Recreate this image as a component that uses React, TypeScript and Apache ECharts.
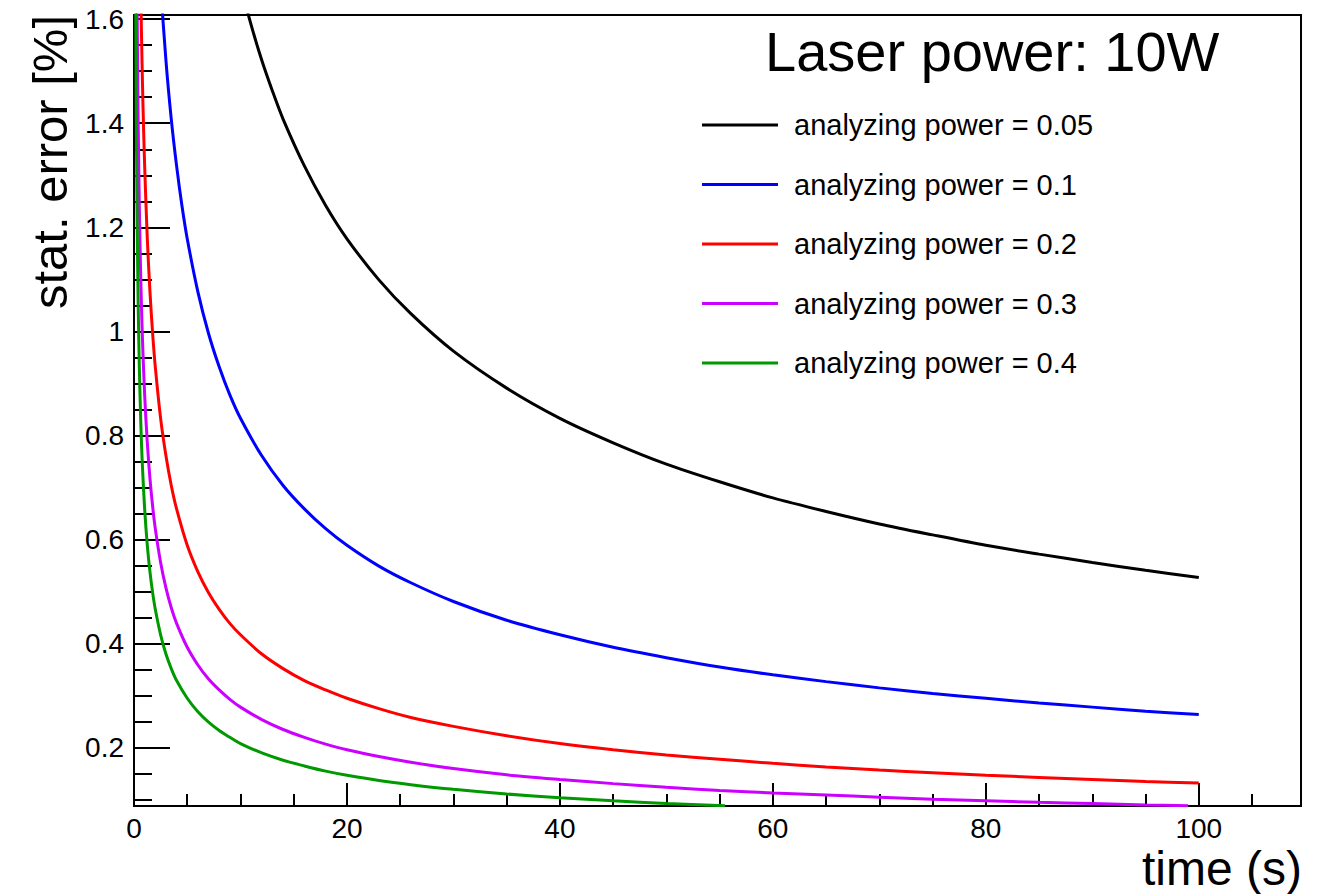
import React, { useEffect, useRef } from "react";
import * as echarts from "echarts";

// ---- data ----
const chartTitle = "Laser power: 10W";
const xTitle = "time (s)";
const yTitle = "stat. error [%]";

const seriesNames = [
  "analyzing power = 0.05",
  "analyzing power = 0.1",
  "analyzing power = 0.2",
  "analyzing power = 0.3",
  "analyzing power = 0.4",
];
const seriesColors = ["#000000", "#0000ff", "#ff0000", "#cc00ff", "#009900"];

// analyzing power = 0.05
const timeA005 = [8, 9, 10, 11, 12, 13, 14, 16, 18, 20, 23, 26, 30, 35, 40, 45, 50, 55, 60, 65, 70, 75, 80, 85, 90, 95, 100];
const errA005 = [1.863, 1.757, 1.667, 1.589, 1.521, 1.462, 1.408, 1.318, 1.242, 1.178, 1.099, 1.034, 0.962, 0.891, 0.833, 0.786, 0.745, 0.711, 0.680, 0.654, 0.630, 0.609, 0.589, 0.572, 0.556, 0.541, 0.527];

// analyzing power = 0.1
const timeA01 = [2, 2.5, 3, 3.5, 4, 4.5, 5, 6, 7, 8, 9, 10, 12, 14, 16, 18, 20, 23, 26, 30, 35, 40, 45, 50, 55, 60, 65, 70, 75, 80, 85, 90, 95, 100];
const errA01 = [1.863, 1.667, 1.521, 1.408, 1.318, 1.242, 1.178, 1.076, 0.996, 0.932, 0.878, 0.833, 0.761, 0.704, 0.659, 0.621, 0.589, 0.549, 0.517, 0.481, 0.445, 0.417, 0.393, 0.373, 0.355, 0.340, 0.327, 0.315, 0.304, 0.295, 0.286, 0.278, 0.270, 0.264];

// analyzing power = 0.2
const timeA02 = [0.5, 0.6, 0.7, 0.8, 0.9, 1, 1.25, 1.5, 1.75, 2, 2.5, 3, 3.5, 4, 5, 6, 7, 8, 9, 10, 12, 14, 16, 18, 20, 23, 26, 30, 35, 40, 45, 50, 55, 60, 65, 70, 75, 80, 85, 90, 95, 100];
const errA02 = [1.863, 1.701, 1.575, 1.473, 1.389, 1.318, 1.178, 1.076, 0.996, 0.932, 0.833, 0.761, 0.704, 0.659, 0.589, 0.538, 0.498, 0.466, 0.439, 0.417, 0.380, 0.352, 0.329, 0.311, 0.295, 0.275, 0.258, 0.241, 0.223, 0.208, 0.196, 0.186, 0.178, 0.170, 0.163, 0.157, 0.152, 0.147, 0.143, 0.139, 0.135, 0.132];

// analyzing power = 0.3
const timeA03 = [0.2, 0.25, 0.3, 0.35, 0.4, 0.5, 0.6, 0.7, 0.8, 1, 1.25, 1.5, 1.75, 2, 2.5, 3, 3.5, 4, 5, 6, 7, 8, 9, 10, 12, 14, 16, 18, 20, 23, 26, 30, 35, 40, 45, 50, 55, 60, 65, 70, 75, 80, 85, 90, 95, 99];
const errA03 = [1.964, 1.757, 1.604, 1.485, 1.389, 1.242, 1.134, 1.050, 0.982, 0.878, 0.786, 0.717, 0.664, 0.621, 0.556, 0.507, 0.469, 0.439, 0.393, 0.359, 0.332, 0.311, 0.293, 0.278, 0.254, 0.235, 0.220, 0.207, 0.196, 0.183, 0.172, 0.160, 0.148, 0.139, 0.131, 0.124, 0.118, 0.113, 0.109, 0.105, 0.101, 0.098, 0.095, 0.093, 0.090, 0.0885];

// analyzing power = 0.4
const timeA04 = [0.1, 0.15, 0.2, 0.25, 0.3, 0.4, 0.5, 0.6, 0.7, 0.8, 1, 1.25, 1.5, 1.75, 2, 2.5, 3, 3.5, 4, 5, 6, 7, 8, 9, 10, 12, 14, 16, 18, 20, 23, 26, 30, 35, 40, 45, 50, 55.5];
const errA04 = [2.083, 1.701, 1.473, 1.318, 1.203, 1.042, 0.932, 0.851, 0.787, 0.737, 0.659, 0.589, 0.538, 0.498, 0.466, 0.417, 0.380, 0.352, 0.329, 0.295, 0.269, 0.249, 0.233, 0.220, 0.208, 0.190, 0.176, 0.165, 0.155, 0.147, 0.137, 0.129, 0.120, 0.111, 0.104, 0.098, 0.093, 0.0885];

const seriesTimes = [timeA005, timeA01, timeA02, timeA03, timeA04];
const seriesErrors = [errA005, errA01, errA02, errA03, errA04];

const xMin = 0;
const xMax = 109.6;
const yMin = 0.088;
const yMax = 1.608;

const FONT = "'Liberation Sans', Arial, Helvetica, sans-serif";

export default function App() {
  const ref = useRef<HTMLDivElement>(null);

  useEffect(() => {
    if (!ref.current) return;
    const chart = echarts.init(ref.current, undefined, { renderer: "svg" });

    const isMultiple = (v: number, step: number) =>
      Math.abs(v / step - Math.round(v / step)) < 1e-6;

    const option: any = {
      animation: false,
      backgroundColor: "#ffffff",
      textStyle: { fontFamily: FONT },
      grid: {
        left: 134,
        top: 15,
        right: 27,
        bottom: 88,
        show: true,
        borderColor: "#000",
        borderWidth: 2,
        backgroundColor: "transparent",
      },
      title: {
        text: chartTitle,
        left: 765,
        top: 23,
        padding: 0,
        textStyle: { fontFamily: FONT, fontSize: 56, fontWeight: "normal", color: "#000" },
      },
      legend: {
        orient: "vertical",
        left: 702,
        top: 110,
        padding: 0,
        itemWidth: 76,
        itemHeight: 3,
        itemGap: 29.5,
        icon: "rect",
        data: seriesNames,
        selectedMode: false,
        textStyle: { fontFamily: FONT, fontSize: 29, color: "#000", lineHeight: 30, padding: [0, 0, 0, 11] },
      },
      xAxis: {
        type: "value",
        min: xMin,
        max: xMax,
        splitNumber: 5,
        axisLine: { show: true, onZero: false, lineStyle: { color: "#000", width: 2 } },
        axisTick: { show: true, inside: true, length: 23, lineStyle: { color: "#000", width: 2 } },
        minorTick: { show: true, splitNumber: 4, length: 12, lineStyle: { color: "#000", width: 2 } },
        splitLine: { show: false },
        axisLabel: {
          color: "#000",
          fontSize: 28,
          fontFamily: FONT,
          margin: 8,
          formatter: (v: number) => (isMultiple(v, 20) && v <= 100 ? String(v) : ""),
        },
      },
      yAxis: {
        type: "value",
        min: yMin,
        max: yMax,
        splitNumber: 8,
        axisLine: { show: true, onZero: false, lineStyle: { color: "#000", width: 2 } },
        axisTick: { show: true, inside: true, length: 36, lineStyle: { color: "#000", width: 2 } },
        minorTick: { show: true, splitNumber: 4, length: 18, lineStyle: { color: "#000", width: 2 } },
        splitLine: { show: false },
        axisLabel: {
          color: "#000",
          fontSize: 28,
          fontFamily: FONT,
          margin: 10,
          formatter: (v: number) => {
            if (!isMultiple(v, 0.2)) return "";
            const r = Math.round(v * 10) / 10;
            return String(r);
          },
        },
      },
      graphic: [
        {
          type: "text",
          x: 50,
          y: 15,
          rotation: Math.PI / 2,
          style: {
            text: yTitle,
            fontFamily: FONT,
            fontSize: 49,
            fill: "#000",
            align: "right",
            verticalAlign: "middle",
          },
        },
        {
          type: "text",
          x: 1302,
          y: 868,
          style: {
            text: xTitle,
            fontFamily: FONT,
            fontSize: 48,
            fill: "#000",
            align: "right",
            verticalAlign: "middle",
          },
        },
      ],
      series: seriesNames.map((name, i) => ({
        name,
        type: "line",
        showSymbol: false,
        symbol: "none",
        clip: true,
        smooth: 0.3,
        color: seriesColors[i],
        lineStyle: { color: seriesColors[i], width: 3 },
        data: seriesTimes[i].map((t, j) => [t, seriesErrors[i][j]]),
      })),
    };

    chart.setOption(option);
    return () => {
      chart.dispose();
    };
  }, []);

  return (
    <div
      ref={ref}
      style={{ position: "fixed", left: 0, top: 0, width: 1328, height: 894, background: "#fff" }}
    />
  );
}
